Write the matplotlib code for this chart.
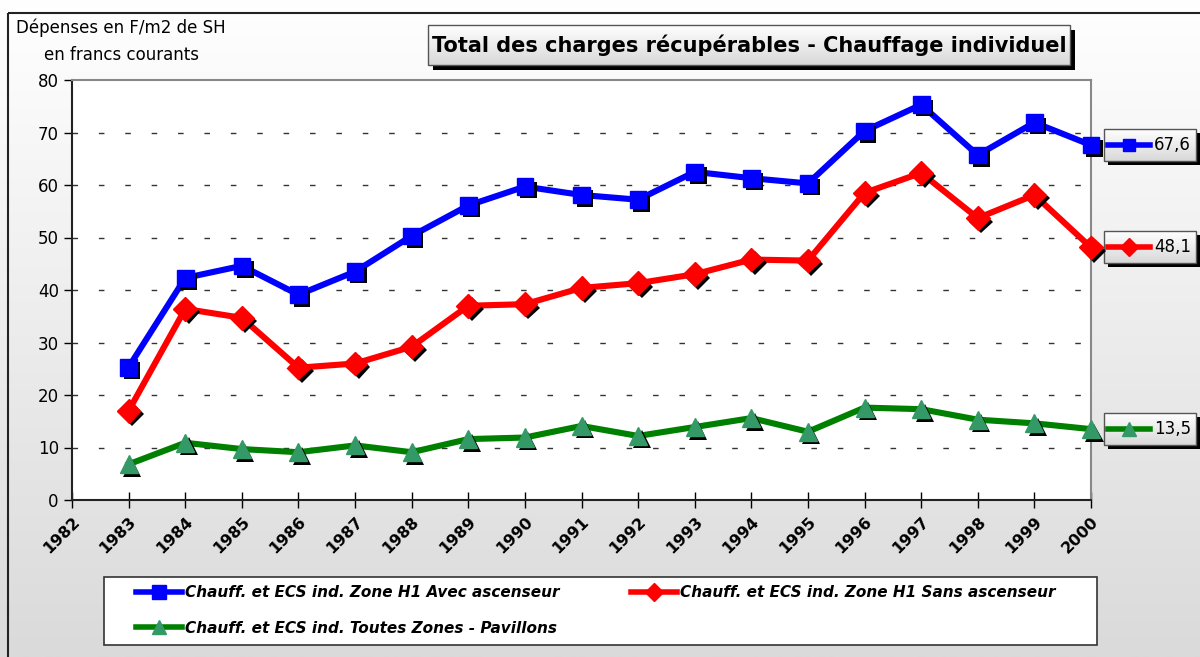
import matplotlib
matplotlib.use("Agg")
import matplotlib.pyplot as plt
import matplotlib.patheffects as pe
import matplotlib.transforms as mtransforms
from matplotlib.colors import LinearSegmentedColormap
from matplotlib.lines import Line2D
from matplotlib.patches import Rectangle
import numpy as np

# Data
years = [1983, 1984, 1985, 1986, 1987, 1988, 1989, 1990, 1991, 1992,
         1993, 1994, 1995, 1996, 1997, 1998, 1999, 2000]
avec_asc = [25.3, 42.3, 44.6, 39.1, 43.5, 50.3, 56.1, 59.7, 58.1, 57.2,
            62.5, 61.3, 60.3, 70.3, 75.3, 65.7, 71.9, 67.6]
sans_asc = [17.0, 36.4, 34.7, 25.2, 26.0, 29.2, 37.0, 37.3, 40.4, 41.3,
            43.0, 45.8, 45.6, 58.5, 62.3, 53.7, 58.1, 48.1]
pavillons = [6.8, 10.9, 9.7, 9.1, 10.4, 9.1, 11.6, 11.9, 14.1, 12.2,
             13.9, 15.6, 13.0, 17.6, 17.3, 15.3, 14.6, 13.5]
tick_years = list(range(1982, 2001))
labels = ['Chauff. et ECS ind. Zone H1 Avec ascenseur',
          'Chauff. et ECS ind. Zone H1 Sans ascenseur',
          'Chauff. et ECS ind. Toutes Zones - Pavillons']
end_labels = ['67,6', '48,1', '13,5']

W, H = 1200, 657
fig = plt.figure(figsize=(W / 100, H / 100), dpi=100)

# background panel in pixel coordinates
bg = fig.add_axes([0, 0, 1, 1], zorder=-1)
bg.set_xlim(0, W)
bg.set_ylim(H, 0)
bg.axis('off')
bg_cmap = LinearSegmentedColormap.from_list('bg', ['#ffffff', '#dadada'])
grad = np.linspace(0, 1, 256).reshape(-1, 1)
bg.imshow(grad, cmap=bg_cmap, extent=(0, W, H, 0), aspect='auto')
bg.add_patch(Rectangle((8, 13), 1400, 900, fill=False, ec='#222222', lw=1.5))

box_cmap = LinearSegmentedColormap.from_list('box', ['#ffffff', '#d8d8d8'])


def gradient_box(x0, y0, x1, y1, shadow=5):
    bg.add_patch(Rectangle((x0 + shadow, y0 + shadow), x1 - x0, y1 - y0,
                           fc='black', ec='none', zorder=2))
    bg.imshow(grad, cmap=box_cmap, extent=(x0, x1, y1, y0), aspect='auto', zorder=3)
    bg.add_patch(Rectangle((x0, y0), x1 - x0, y1 - y0, fill=False,
                           ec='#555555', lw=1, zorder=4))


# title box
gradient_box(428, 25, 1070, 65)
bg.text(749, 45, 'Total des charges récupérables - Chauffage individuel',
        ha='center', va='center', fontsize=15, fontweight='bold', zorder=5)

# y axis caption
bg.text(121, 28, 'Dépenses en F/m2 de SH', ha='center', va='center', fontsize=12)
bg.text(121, 55, 'en francs courants', ha='center', va='center', fontsize=12)

# main axes
ax = fig.add_axes([72 / W, 1 - 500 / H, (1091 - 72) / W, 420 / H])
ax.set_facecolor('white')
ax.set_xlim(1982, 2000)
ax.set_ylim(0, 80)
ax.set_yticks(range(0, 81, 10))
ax.set_xticks(tick_years)
ax.set_xticklabels([str(y) for y in tick_years], rotation=45, ha='right',
                   rotation_mode='anchor', fontsize=11.5, fontweight='bold')
offset = mtransforms.ScaledTranslation(-7 / 72, -5 / 72, fig.dpi_scale_trans)
for lbl in ax.get_xticklabels():
    lbl.set_transform(lbl.get_transform() + offset)
ax.tick_params(axis='y', labelsize=12, length=6, width=1, direction='out')
ax.tick_params(axis='x', length=12, width=1, direction='inout', pad=4)
for s in ['top', 'right']:
    ax.spines[s].set_color('#888888')
    ax.spines[s].set_linewidth(1.5)
for s in ['left', 'bottom']:
    ax.spines[s].set_color('#222222')
    ax.spines[s].set_linewidth(1.5)
for yv in range(10, 80, 10):
    ax.axhline(yv, color='#333333', lw=1, dashes=(4, 15), zorder=1)

shadow = [pe.SimplePatchShadow(offset=(2.5, -2.5), shadow_rgbFace='black', alpha=1.0),
          pe.Normal()]

series = [
    (avec_asc, '#0000ff', 's', '#0000ff', 12),
    (sans_asc, '#ff0000', 'D', '#ff0000', 12),
    (pavillons, '#008000', '^', '#339966', 13),
]
for vals, lc, mk, mc, ms in series:
    ax.plot(years, vals, color=lc, lw=4.4, solid_joinstyle='miter', zorder=3, clip_on=False)
for vals, lc, mk, mc, ms in series:
    ax.plot(years, vals, ls='none', marker=mk, ms=ms, mfc=mc, mec=mc,
            zorder=4, clip_on=False, path_effects=shadow)

# legend frame, then a frameless legend inside it
bg.add_patch(Rectangle((104, 577), 993, 68, fc='white', ec='#333333', lw=1.2, zorder=2))
handles = [Line2D([], [], color=lc, lw=4, marker=mk, ms=ms * 0.8, mfc=mc, mec=mc)
           for vals, lc, mk, mc, ms in series]
order = [0, 2, 1]  # column-major fill: Avec / Pavillons in col 1, Sans in col 2
leg = fig.legend([handles[i] for i in order], [labels[i] for i in order],
                 ncol=2, loc='upper left', bbox_to_anchor=(133 / W, 1 - 582 / H),
                 prop={'size': 11, 'weight': 'bold', 'style': 'italic'},
                 frameon=False, handlelength=3, handletextpad=0.2,
                 labelspacing=1.35, columnspacing=4.7, borderpad=0.2, borderaxespad=0)

# value boxes at the right end
for (vals, lc, mk, mc, ms), txt in zip(series, end_labels):
    ypix = H - ax.transData.transform((2000, vals[-1]))[1]
    gradient_box(1104, ypix - 16, 1196, ypix + 16, shadow=4)
    bg.add_line(Line2D([1108, 1150], [ypix, ypix], color=lc, lw=4, zorder=5))
    bg.add_line(Line2D([1129], [ypix], marker=mk, ms=ms * 0.75, mfc=mc, mec=mc, zorder=6))
    bg.text(1154, ypix, txt, ha='left', va='center', fontsize=12, zorder=6)

fig.savefig('out.png', dpi=100)
